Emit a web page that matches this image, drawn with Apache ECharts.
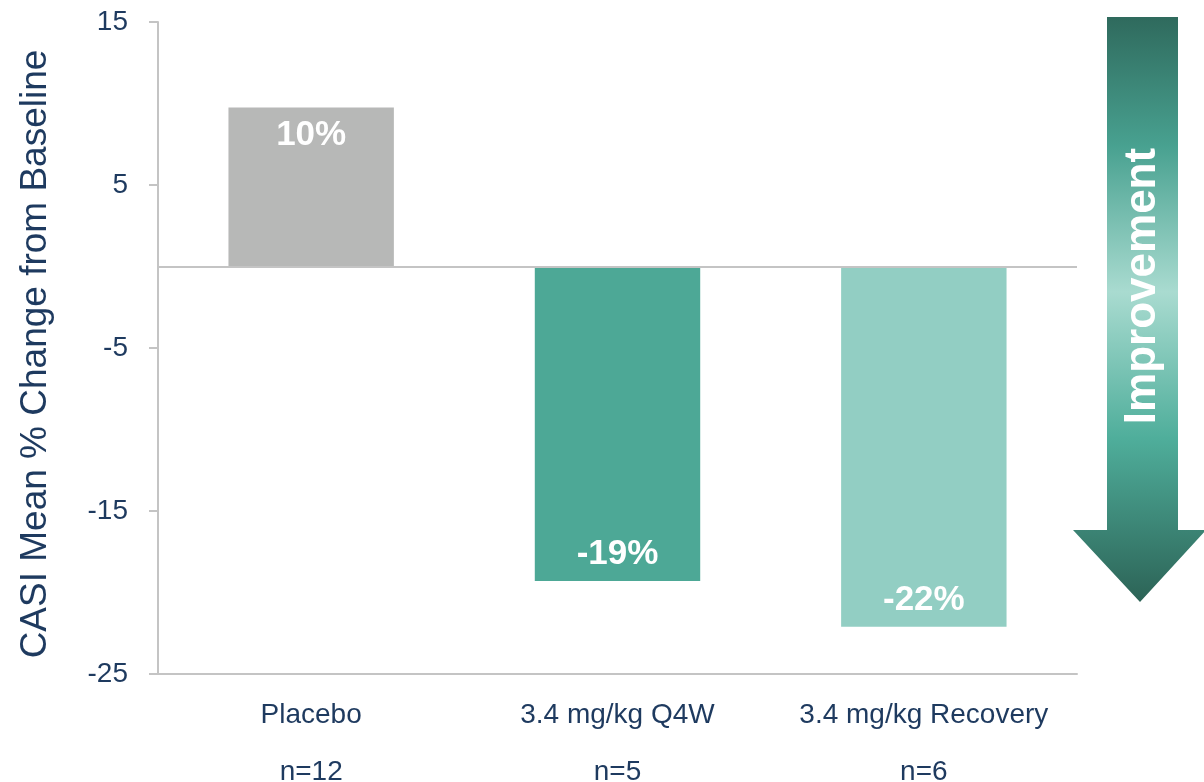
<!DOCTYPE html>
<html>
<head>
<meta charset="utf-8">
<script src="https://cdn.jsdelivr.net/npm/echarts@6/dist/echarts.min.js"></script>
<style>
  html, body { margin: 0; padding: 0; background: #fff; }
  #chart { width: 1204px; height: 782px; }
</style>
</head>
<body>
<div id="chart"></div>
<script>
// data
const categories = ['Placebo', '3.4 mg/kg Q4W', '3.4 mg/kg Recovery'];
const groupSizes = ['n=12', 'n=5', 'n=6'];
const meanChange = [9.75, -19.3, -22.1];
const valueLabels = ['10%', '-19%', '-22%'];
const barColors = ['#b7b8b7', '#4da896', '#92cec3'];
const yTicks = [-25, -15, -5, 5, 15];

const navy = '#1e3a5f';
const axisGrey = '#c4c4c4';

const chart = echarts.init(document.getElementById('chart'));

// arrow on the right side, drawn as decoration
const arrowGradient = new echarts.graphic.LinearGradient(0, 0, 0, 1, [
  { offset: 0, color: '#2f6a5d' },
  { offset: 0.22, color: '#48a190' },
  { offset: 0.47, color: '#a9dbd0' },
  { offset: 0.72, color: '#4fae9b' },
  { offset: 1, color: '#2c6356' },
]);

const option = {
  animation: false,
  grid: {
    left: 158,
    right: 127,
    top: 22,
    bottom: 108,
    outerBoundsMode: 'none',
    containLabel: false,
  },
  xAxis: {
    type: 'category',
    data: categories,
    axisLine: {
      onZero: false,
      lineStyle: { color: axisGrey, width: 2 },
    },
    axisTick: { show: false },
    axisLabel: {
      interval: 0,
      margin: 13,
      color: navy,
      fontFamily: 'Liberation Sans',
      fontSize: 28,
      lineHeight: 57,
      formatter: (value, idx) => value + '\n' + groupSizes[idx],
    },
  },
  yAxis: {
    type: 'value',
    min: -25,
    max: 15,
    name: 'CASI Mean % Change from Baseline',
    nameLocation: 'middle',
    nameGap: 104,
    nameTextStyle: {
      color: navy,
      fontFamily: 'Liberation Sans',
      fontSize: 37,
      padding: [0, 12, 0, 0],
    },
    axisLine: {
      show: true,
      lineStyle: { color: axisGrey, width: 2 },
    },
    axisTick: {
      show: true,
      length: 9,
      customValues: yTicks,
      lineStyle: { color: axisGrey, width: 2 },
    },
    axisLabel: {
      customValues: yTicks,
      margin: 30,
      color: navy,
      fontFamily: 'Liberation Sans',
      fontSize: 28,
    },
    splitLine: { show: false },
  },
  series: [
    {
      type: 'bar',
      barWidth: '54%',
      data: meanChange.map((v, i) => ({
        value: v,
        itemStyle: { color: barColors[i] },
        label: {
          position: v >= 0 ? 'insideTop' : 'insideBottom',
          distance: v >= 0 ? 10 : 9,
        },
      })),
      label: {
        show: true,
        color: '#fff',
        fontFamily: 'Liberation Sans',
        fontWeight: 'bold',
        fontSize: 35,
        formatter: (p) => valueLabels[p.dataIndex],
      },
      markLine: {
        silent: true,
        symbol: 'none',
        label: { show: false },
        lineStyle: { color: axisGrey, width: 2, type: 'solid' },
        data: [{ yAxis: 0 }],
      },
    },
  ],
  graphic: [
    {
      type: 'polygon',
      shape: {
        points: [
          [1107, 17], [1178, 17], [1178, 530], [1206, 530],
          [1140, 602], [1073, 530], [1107, 530],
        ],
      },
      style: { fill: arrowGradient },
      z: 10,
    },
    {
      type: 'text',
      x: 1143,
      y: 286,
      rotation: Math.PI / 2,
      style: {
        text: 'Improvement',
        fill: '#fff',
        fontFamily: 'Liberation Sans',
        fontWeight: 'bold',
        fontSize: 44,
        align: 'center',
        verticalAlign: 'middle',
      },
      z: 11,
    },
  ],
};

chart.setOption(option);
</script>
</body>
</html>
